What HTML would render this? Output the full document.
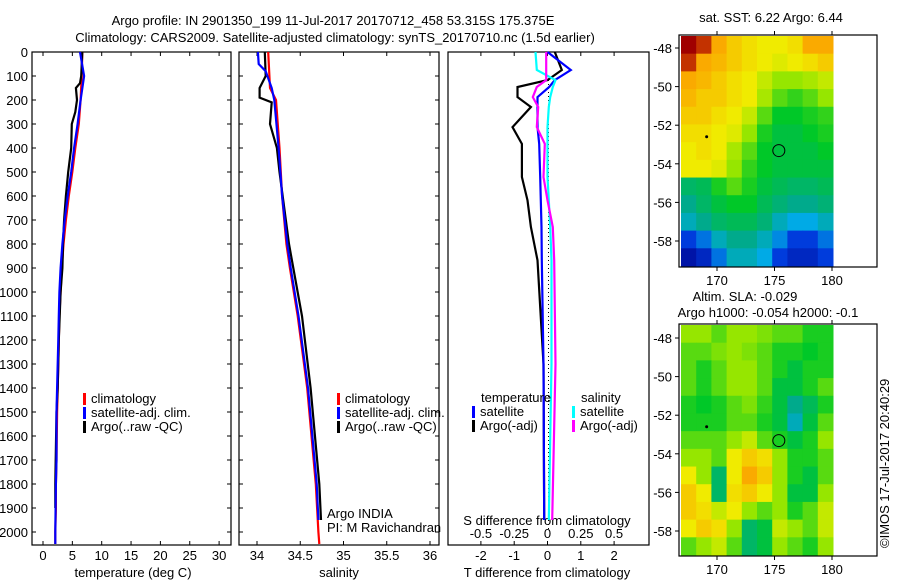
<!DOCTYPE html>
<html><head><meta charset="utf-8"><style>
body{margin:0;background:#fff;width:900px;height:580px;overflow:hidden}
svg text{font-family:"Liberation Sans",sans-serif;font-size:13px;fill:#000}
</style></head><body>
<svg id="c" width="900" height="580" xmlns="http://www.w3.org/2000/svg">
<text x="333" y="25" text-anchor="middle">Argo profile: IN 2901350_199 11-Jul-2017 20170712_458 53.315S 175.375E</text>
<text x="335" y="42" text-anchor="middle">Climatology: CARS2009. Satellite-adjusted climatology: synTS_20170710.nc (1.5d earlier)</text>
<text transform="translate(889,548) rotate(-90)">©IMOS 17-Jul-2017 20:40:29</text>
</svg>
<script>
// ---- data ----
const depths=[0,100,200,300,400,500,600,700,800,900,1000,1100,1200,1300,1400,1500,1600,1700,1800,1900,2000,2050];
const tClim=[6.7,6.6,6.4,6.1,5.5,5.0,4.4,3.9,3.5,3.2,3.0,2.8,2.7,2.6,2.5,2.4,2.35,2.3,2.2,2.2,2.1,2.1];
const tSat=[6.3,7.0,6.4,5.9,5.3,4.8,4.2,3.7,3.3,3.0,2.8,2.7,2.6,2.5,2.4,2.3,2.3,2.3,2.2,2.15,2.1,2.1];
const tArgoDepths=[0,100,130,150,200,250,300,400,500,600,700,800,900,1000,1200,1400,1500,1800,1900];
const tArgo=[6.7,6.5,6.3,5.6,5.8,5.5,4.9,4.8,4.3,3.9,3.6,3.4,3.3,3.0,2.7,2.5,2.3,2.1,2.1];
const sClimDepths=[0,150,200,400,600,800,900,1100,1400,1800,2000,2050];
const sClim=[34.13,34.15,34.22,34.26,34.29,34.34,34.38,34.47,34.58,34.68,34.71,34.72];
const sSatDepths=[0,50,80,150,200,400,600,800,900,1100,1400,1800,1950];
const sSat=[34.01,34.02,34.1,34.17,34.2,34.25,34.29,34.35,34.39,34.48,34.59,34.69,34.71];
const sArgoDepths=[0,100,150,190,210,300,400,500,800,900,1100,1400,1800,1950];
const sArgo=[34.09,34.1,34.03,34.03,34.17,34.15,34.23,34.26,34.37,34.42,34.52,34.62,34.72,34.74];
const dDepths=[0,75,117,146,188,229,313,383,521,618,729,868,1300,1950];
const dTArgo=[0.22,0.43,0,-0.9,-0.9,-0.5,-1.05,-0.77,-0.77,-0.6,-0.5,-0.3,-0.12,-0.1];
const dTSat=[0,0.7,0.22,0.05,-0.3,-0.3,-0.3,-0.25,-0.22,-0.2,-0.18,-0.17,-0.12,-0.1];
const dSSat=[-0.09,-0.08,0.06,0.04,0.02,0.01,0,0,0,0.01,0.02,0.03,0.03,0.01];
const dSArgo=[-0.01,-0.01,-0.01,-0.08,-0.11,-0.07,-0.08,-0.02,-0.03,0,0.04,0.05,0.06,0.035];
const depthTicks=[0,100,200,300,400,500,600,700,800,900,1000,1100,1200,1300,1400,1500,1600,1700,1800,1900,2000];
const tTicks=[0,5,10,15,20,25,30];
const sTicks=[34,34.5,35,35.5,36];
const dTTicks=[-2,-1,0,1,2];
const dSTicks=["-0.5","-0.25","0","0.25","0.5"];
const lonTicks=[170,175,180];
const latTicks=[-48,-50,-52,-54,-56,-58];
const sstGrid=[
[1,0.95,0.8,0.75,0.72,0.7,0.7,0.72,0.8,0.8],
[0.95,0.8,0.78,0.75,0.72,0.7,0.68,0.7,0.72,0.75],
[0.8,0.78,0.75,0.72,0.7,0.65,0.6,0.6,0.62,0.65],
[0.78,0.75,0.75,0.72,0.7,0.62,0.55,0.52,0.55,0.6],
[0.75,0.75,0.72,0.7,0.65,0.55,0.48,0.48,0.5,0.52],
[0.72,0.72,0.7,0.68,0.6,0.5,0.45,0.45,0.48,0.5],
[0.7,0.72,0.7,0.62,0.55,0.48,0.45,0.45,0.45,0.48],
[0.7,0.7,0.68,0.6,0.52,0.48,0.45,0.45,0.45,0.45],
[0.4,0.42,0.5,0.55,0.5,0.45,0.42,0.4,0.4,0.42],
[0.35,0.4,0.45,0.48,0.48,0.42,0.38,0.35,0.35,0.38],
[0.3,0.35,0.4,0.42,0.42,0.38,0.3,0.25,0.25,0.3],
[0.15,0.2,0.3,0.35,0.35,0.3,0.22,0.15,0.15,0.2],
[0.05,0.1,0.2,0.3,0.3,0.25,0.15,0.1,0.1,0.15]];
const slaGrid=[
[0.6,0.6,0.55,0.6,0.6,0.58,0.55,0.55,0.5,0.5],
[0.55,0.55,0.58,0.6,0.58,0.55,0.5,0.5,0.48,0.5],
[0.55,0.5,0.55,0.6,0.6,0.55,0.5,0.45,0.5,0.5],
[0.55,0.5,0.55,0.6,0.6,0.55,0.45,0.45,0.5,0.55],
[0.5,0.48,0.5,0.55,0.58,0.52,0.45,0.35,0.42,0.5],
[0.5,0.5,0.5,0.55,0.55,0.5,0.45,0.3,0.45,0.55],
[0.55,0.55,0.55,0.6,0.65,0.55,0.5,0.45,0.5,0.6],
[0.6,0.6,0.55,0.7,0.75,0.72,0.6,0.5,0.5,0.55],
[0.7,0.6,0.4,0.7,0.8,0.75,0.6,0.5,0.45,0.55],
[0.75,0.7,0.4,0.72,0.75,0.7,0.6,0.45,0.45,0.6],
[0.75,0.72,0.65,0.7,0.6,0.55,0.6,0.5,0.55,0.65],
[0.7,0.75,0.72,0.6,0.4,0.45,0.65,0.6,0.55,0.65],
[0.55,0.6,0.65,0.55,0.4,0.45,0.6,0.55,0.5,0.6]];

// ---- helpers ----
const svg=document.getElementById('c');
const NS='http://www.w3.org/2000/svg';
function mk(tag,attrs,parent){const e=document.createElementNS(NS,tag);for(const k in attrs)e.setAttribute(k,attrs[k]);(parent||svg).appendChild(e);return e;}
function txt(x,y,s,anchor,parent){const t=mk('text',{x:x,y:y,'text-anchor':anchor||'start'},parent);t.textContent=s;return t;}
const yD=d=>52+d*0.24;
const xT=v=>43+v*5.87;
const xS=v=>257+(v-34)*86.5;
const xDT=v=>547.5+v*33.3;
const xDS=v=>547.5+v*133.2;

function frame(name){
  const g=mk('g',{});
  
  
  return g;
}
function box(g,x0,y0,x1,y1){mk('rect',{x:x0,y:y0,width:x1-x0,height:y1-y0,fill:'none',stroke:'#000','stroke-width':1.2},g);}
function stepLine(g,xs,ds,xf,color,name,w){
  let p='';
  xs.forEach((v,i)=>{const x=xf(v),y=yD(ds[i]);p+=(i?'L':'M')+x.toFixed(1)+','+y.toFixed(1);});
  const e=mk('path',{d:p,fill:'none',stroke:color,'stroke-width':w||2.2},g);
  
  
}
function legend(g,x,y,items){
  items.forEach((it,i)=>{
    mk('rect',{x:x,y:y+i*14-10,width:3,height:12,fill:it[1]},g);
    txt(x+8,y+i*14,it[0],'start',g);
  });
}

// ---- panel 1 ----
const g1=frame('temperature-panel');
box(g1,32,52,231,545);
depthTicks.forEach(d=>{mk('line',{x1:32,x2:36,y1:yD(d),y2:yD(d),stroke:'#000'},g1);mk('line',{x1:227,x2:231,y1:yD(d),y2:yD(d),stroke:'#000'},g1);txt(28,yD(d)+5,String(d),'end',g1);});
tTicks.forEach(v=>{mk('line',{x1:xT(v),x2:xT(v),y1:541,y2:545,stroke:'#000'},g1);mk('line',{x1:xT(v),x2:xT(v),y1:52,y2:56,stroke:'#000'},g1);txt(xT(v),560,String(v),'middle',g1);});
txt(133,577,'temperature (deg C)','middle',g1);
stepLine(g1,tClim,depths,xT,'#f00','temp-climatology-line');
stepLine(g1,tArgo,tArgoDepths,xT,'#000','temp-argo-line');
stepLine(g1,tSat,depths,xT,'#00f','temp-satellite-line');
legend(g1,83,403,[['climatology','#f00'],['satellite-adj. clim.','#00f'],['Argo(..raw -QC)','#000']]);

// ---- panel 2 ----
const g2=frame('salinity-panel');
box(g2,239,52,439,545);
depthTicks.forEach(d=>{mk('line',{x1:239,x2:243,y1:yD(d),y2:yD(d),stroke:'#000'},g2);mk('line',{x1:435,x2:439,y1:yD(d),y2:yD(d),stroke:'#000'},g2);});
sTicks.forEach(v=>{mk('line',{x1:xS(v),x2:xS(v),y1:541,y2:545,stroke:'#000'},g2);mk('line',{x1:xS(v),x2:xS(v),y1:52,y2:56,stroke:'#000'},g2);txt(xS(v),560,String(v),'middle',g2);});
txt(339,577,'salinity','middle',g2);
stepLine(g2,sClim,sClimDepths,xS,'#f00','sal-climatology-line');
stepLine(g2,sArgo,sArgoDepths,xS,'#000','sal-argo-line');
stepLine(g2,sSat,sSatDepths,xS,'#00f','sal-satellite-line');
legend(g2,337,403,[['climatology','#f00'],['satellite-adj. clim.','#00f'],['Argo(..raw -QC)','#000']]);
txt(327,518,'Argo INDIA','start',g2);
txt(327,532,'PI: M Ravichandran','start',g2);

// ---- panel 3 ----
const g3=frame('difference-panel');
box(g3,448,52,649,545);
dTTicks.forEach(v=>{mk('line',{x1:xDT(v),x2:xDT(v),y1:52,y2:56,stroke:'#000'},g3);txt(xDT(v),560,String(v),'middle',g3);});
dSTicks.forEach(v=>{mk('line',{x1:xDS(+v),x2:xDS(+v),y1:541,y2:545,stroke:'#000'},g3);txt(xDS(+v),538,v,'middle',g3);});
txt(547,525,'S difference from climatology','middle',g3);
txt(547,577,'T difference from climatology','middle',g3);
mk('line',{x1:548.5,x2:548.5,y1:yD(100),y2:yD(2000),stroke:'#000','stroke-dasharray':'1,3'},g3);
stepLine(g3,dTArgo,dDepths,xDT,'#000','tdiff-argo-line');
stepLine(g3,dTSat,dDepths,xDT,'#00f','tdiff-satellite-line');
stepLine(g3,dSSat,dDepths,xDS,'#0ff','sdiff-satellite-line');
stepLine(g3,dSArgo,dDepths,xDS,'#f0f','sdiff-argo-line');
txt(481,402,'temperature','start',g3);
txt(581,402,'salinity','start',g3);
legend(g3,472,416,[['satellite','#00f'],['Argo(-adj)','#000']]);
legend(g3,572,416,[['satellite','#0ff'],['Argo(-adj)','#f0f']]);

// ---- maps ----
function cmap(v){
  const stops=[[0,[0,0,140]],[0.15,[0,60,220]],[0.25,[0,170,230]],[0.35,[0,170,140]],[0.48,[0,200,40]],[0.6,[150,230,0]],[0.7,[240,235,0]],[0.8,[250,170,0]],[0.9,[230,100,0]],[1,[160,0,0]]];
  for(let i=1;i<stops.length;i++){if(v<=stops[i][0]){const a=stops[i-1],b=stops[i],t=(v-a[0])/(b[0]-a[0]);return 'rgb('+a[1].map((c,k)=>Math.round(c+(b[1][k]-c)*t)).join(',')+')';}}
  return 'rgb(160,0,0)';
}
function map(y0,grid,name,lat48){
  const g=frame(name);
  const xL=v=>717+(v-170)*11.5;
  const yL=v=>lat48+(-48-v)*19.3;
  const top=y0, bot=y0+232, imgL=681, imgR=833;
  const rows=grid.length, cols=grid[0].length;
  const cw=(imgR-imgL)/cols, ch=(bot-1-top-1)/rows;
  grid.forEach((row,r)=>row.forEach((v,c)=>{
    const e=mk('rect',{x:imgL+c*cw,y:top+1+r*ch,width:cw+0.5,height:ch+0.5,fill:cmap(v)},g);
    
    
  }));
  box(g,679,top,877,bot);
  lonTicks.forEach(v=>{mk('line',{x1:xL(v),x2:xL(v),y1:top-4,y2:top,stroke:'#000'},g);mk('line',{x1:xL(v),x2:xL(v),y1:bot,y2:bot+4,stroke:'#000'},g);txt(xL(v),bot+18,String(v),'middle',g);});
  latTicks.forEach(v=>{mk('line',{x1:675,x2:679,y1:yL(v),y2:yL(v),stroke:'#000'},g);txt(672,yL(v)+5,String(v),'end',g);});
  const ring=mk('circle',{cx:xL(175.375),cy:yL(-53.315),r:6,fill:'none',stroke:'#000','stroke-width':1},g);
  
  
  mk('circle',{cx:xL(169.1),cy:yL(-52.6),r:1.5,fill:'#000'},g);
  return g;
}
map(35,sstGrid,'sst-map',48);
txt(771,22,'sat. SST: 6.22 Argo: 6.44','middle');
map(324,slaGrid,'sla-map',338);
txt(745,301,'Altim. SLA: -0.029','middle');
txt(768,317,'Argo h1000: -0.054 h2000: -0.1','middle');
</script>
</body></html>
